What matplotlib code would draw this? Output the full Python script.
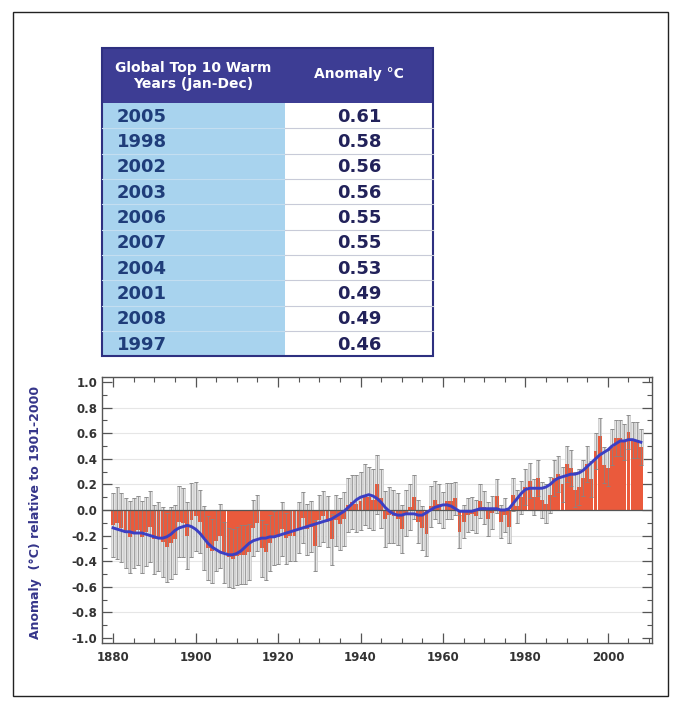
import matplotlib
matplotlib.use('Agg')
import matplotlib.pyplot as plt
from matplotlib.patches import Rectangle
from matplotlib.ticker import MultipleLocator


# top 10 table
table_years = ['2005', '1998', '2002', '2003', '2006', '2007', '2004', '2001', '2008', '1997']
table_anoms = ['0.61', '0.58', '0.56', '0.56', '0.55', '0.55', '0.53', '0.49', '0.49', '0.46']
header_left = 'Global Top 10 Warm\nYears (Jan-Dec)'
header_right = 'Anomaly °C'

# annual anomaly, 1880-2008
years = list(range(1880, 2009))
anomaly = [
    -0.12, -0.10, -0.14, -0.18, -0.21, -0.18, -0.16, -0.21, -0.17, -0.13,  # 1880s
    -0.23, -0.21, -0.25, -0.29, -0.26, -0.23, -0.09, -0.10, -0.20, -0.08,  # 1890s
    -0.05, -0.09, -0.22, -0.30, -0.32, -0.24, -0.20, -0.33, -0.37, -0.38,  # 1900s
    -0.36, -0.35, -0.35, -0.33, -0.14, -0.10, -0.30, -0.33, -0.26, -0.22,  # 1910s
    -0.21, -0.15, -0.22, -0.20, -0.20, -0.14, -0.06, -0.15, -0.13, -0.28,  # 1920s
    -0.08, -0.05, -0.09, -0.23, -0.08, -0.11, -0.07, 0.04, 0.06, 0.05,     # 1930s
    0.07, 0.12, 0.10, 0.08, 0.20, 0.09, -0.07, -0.04, -0.05, -0.07,        # 1940s
    -0.15, -0.02, 0.02, 0.10, -0.09, -0.14, -0.19, 0.03, 0.08, 0.05,       # 1950s
    0.00, 0.07, 0.07, 0.09, -0.17, -0.09, -0.04, -0.03, -0.05, 0.07,       # 1960s
    0.02, -0.07, -0.02, 0.11, -0.09, -0.04, -0.13, 0.12, 0.03, 0.10,       # 1970s
    0.18, 0.23, 0.10, 0.25, 0.08, 0.05, 0.12, 0.25, 0.28, 0.20,            # 1980s
    0.36, 0.33, 0.16, 0.18, 0.25, 0.36, 0.24, 0.46, 0.58, 0.35,            # 1990s
    0.33, 0.49, 0.56, 0.56, 0.53, 0.61, 0.55, 0.55, 0.49,                  # 2000s
]
# half width of the uncertainty range
uncert = [
    0.25, 0.28, 0.27, 0.27, 0.28, 0.27, 0.27, 0.28, 0.27, 0.28,
    0.27, 0.27, 0.27, 0.27, 0.28, 0.27, 0.28, 0.27, 0.26, 0.29,
    0.27, 0.25, 0.25, 0.25, 0.25, 0.24, 0.25, 0.24, 0.23, 0.23,
    0.23, 0.23, 0.23, 0.22, 0.22, 0.22, 0.22, 0.22, 0.22, 0.21,
    0.21, 0.21, 0.20, 0.20, 0.20, 0.20, 0.20, 0.20, 0.20, 0.20,
    0.20, 0.20, 0.20, 0.20, 0.20, 0.20, 0.21, 0.21, 0.21, 0.22,
    0.23, 0.24, 0.24, 0.24, 0.23, 0.23, 0.22, 0.22, 0.21, 0.20,
    0.19, 0.18, 0.18, 0.17, 0.17, 0.17, 0.17, 0.16, 0.15, 0.15,
    0.14, 0.14, 0.14, 0.13, 0.13, 0.13, 0.13, 0.13, 0.13, 0.13,
    0.13, 0.13, 0.13, 0.13, 0.13, 0.13, 0.13, 0.13, 0.13, 0.13,
    0.14, 0.14, 0.14, 0.14, 0.14, 0.15, 0.14, 0.14, 0.14, 0.14,
    0.14, 0.14, 0.14, 0.14, 0.14, 0.14, 0.14, 0.14, 0.14, 0.14,
    0.14, 0.14, 0.14, 0.14, 0.14, 0.13, 0.14, 0.14, 0.14,
]
# low-pass filtered curve as drawn in the chart
smooth = [
    -0.14, -0.15, -0.16, -0.17, -0.17, -0.18, -0.18, -0.18, -0.19, -0.20,
    -0.21, -0.22, -0.22, -0.21, -0.19, -0.16, -0.14, -0.13, -0.12, -0.13,
    -0.15, -0.18, -0.22, -0.26, -0.29, -0.31, -0.33, -0.34, -0.35, -0.35,
    -0.34, -0.32, -0.29, -0.26, -0.24, -0.23, -0.22, -0.22, -0.21, -0.21,
    -0.20, -0.19, -0.18, -0.17, -0.16, -0.15, -0.14, -0.13, -0.12, -0.11,
    -0.10, -0.09, -0.08, -0.07, -0.05, -0.03, -0.01, 0.02, 0.05, 0.08,
    0.10, 0.11, 0.12, 0.11, 0.09, 0.06, 0.02, -0.01, -0.03, -0.04,
    -0.04, -0.03, -0.03, -0.03, -0.04, -0.04, -0.02, 0.00, 0.02, 0.03,
    0.04, 0.04, 0.03, 0.01, -0.01, -0.01, -0.01, -0.01, 0.00, 0.01,
    0.01, 0.01, 0.01, 0.01, 0.00, 0.00, 0.01, 0.05, 0.09, 0.13,
    0.16, 0.17, 0.17, 0.17, 0.17, 0.18, 0.20, 0.23, 0.25, 0.26,
    0.27, 0.28, 0.28, 0.29, 0.31, 0.34, 0.37, 0.40, 0.43, 0.45,
    0.47, 0.50, 0.52, 0.54, 0.54, 0.55, 0.55, 0.54, 0.53,
]

W, H = 681, 708
HEADER_BLUE = '#3d3d94'
CELL_BLUE = '#a8d3ee'
YEAR_TEXT = '#1f3d7a'
ANOM_TEXT = '#22225a'
LABEL_BLUE = '#35358a'


def px(x, y):
    # pixel coords (top left origin) to figure fraction
    return x / W, 1 - y / H


def draw_table(fig):
    left, mid, right = 102, 285, 433
    top, head_bottom = 48, 103
    row_h = 25.35

    def rect(x0, y0, x1, y1, **kw):
        fx, fy = px(x0, y1)
        fig.patches.append(Rectangle((fx, fy), (x1 - x0) / W, (y1 - y0) / H,
                                     transform=fig.transFigure, **kw))

    bottom = head_bottom + row_h * len(table_years)
    rect(left, top, right, head_bottom, facecolor=HEADER_BLUE, edgecolor='none')
    rect(left, head_bottom, mid, bottom, facecolor=CELL_BLUE, edgecolor='none')
    rect(mid, head_bottom, right, bottom, facecolor='white', edgecolor='none')

    for i in range(1, len(table_years)):
        y = head_bottom + i * row_h
        fig.add_artist(plt.Line2D([px(left, 0)[0], px(mid, 0)[0]], [px(0, y)[1]] * 2,
                                  color='#c4def0', lw=0.8, transform=fig.transFigure))
        fig.add_artist(plt.Line2D([px(mid, 0)[0], px(right, 0)[0]], [px(0, y)[1]] * 2,
                                  color='#c8cbd8', lw=0.8, transform=fig.transFigure))
    rect(left, top, right, bottom, facecolor='none', edgecolor='#2e3080', lw=1.5)

    fig.text(*px((left + mid) / 2, 76), header_left, color='white', fontsize=10,
             fontweight='bold', ha='center', va='center', linespacing=1.1)
    fig.text(*px((mid + right) / 2, 74), header_right, color='white', fontsize=10,
             fontweight='bold', ha='center', va='center')
    for i, (yr, val) in enumerate(zip(table_years, table_anoms)):
        yc = head_bottom + (i + 0.5) * row_h + 1
        fig.text(*px(117, yc), yr, color=YEAR_TEXT, fontsize=13, fontweight='bold',
                 ha='left', va='center')
        fig.text(*px((mid + right) / 2, yc), val, color=ANOM_TEXT, fontsize=13,
                 fontweight='bold', ha='center', va='center')


def draw_plot(fig):
    l, r, t, b = 102, 652, 377, 643
    ax = fig.add_axes([l / W, 1 - b / H, (r - l) / W, (b - t) / H])

    low = [a - u for a, u in zip(anomaly, uncert)]
    span = [2 * u for u in uncert]
    ax.bar(years, span, bottom=low, width=0.8, color='#e4e4e4',
           edgecolor='#bcbcbc', linewidth=0.4, zorder=2)
    ax.bar(years, anomaly, width=0.95, color='#ea5a3c', edgecolor='none', zorder=3)
    ax.errorbar(years, anomaly, yerr=uncert, fmt='none', ecolor='#858585',
                elinewidth=0.5, capsize=1.6, capthick=0.6, zorder=4)
    ax.plot(years, smooth, color='#3b3fc4', lw=2.1, zorder=5)
    ax.axhline(0, color='#555555', lw=0.9, zorder=4)

    ax.set_xlim(1877.3, 2010.7)
    ax.set_ylim(-1.04, 1.04)
    ax.xaxis.set_major_locator(MultipleLocator(20))
    ax.xaxis.set_minor_locator(MultipleLocator(5))
    ax.yaxis.set_major_locator(MultipleLocator(0.2))
    ax.yaxis.set_minor_locator(MultipleLocator(0.1))
    ax.yaxis.set_major_formatter(plt.FuncFormatter(lambda v, p: f'{v:.1f}'.replace('-0.0', '0.0')))
    ax.tick_params(which='both', direction='in', top=True, right=True,
                   color='#555555', labelcolor='#333333', labelsize=8.5)
    ax.tick_params(which='major', length=7, width=0.9)
    ax.tick_params(which='minor', length=3.5, width=0.8)
    ax.tick_params(axis='x', pad=6)
    for label in ax.get_xticklabels() + ax.get_yticklabels():
        label.set_fontweight('bold')
    for spine in ax.spines.values():
        spine.set_color('#555555')
        spine.set_linewidth(1.0)
    for v in [-0.8, -0.6, -0.4, -0.2, 0.2, 0.4, 0.6, 0.8]:
        ax.axhline(v, color='#e6e6e6', lw=0.8, zorder=1)

    fig.text(*px(36, 512), 'Anomaly  (°C) relative to 1901-2000', rotation=90,
             color=LABEL_BLUE, fontsize=9, fontweight='bold', ha='center', va='center')


def main():
    fig = plt.figure(figsize=(W / 100, H / 100), dpi=100)
    fig.patch.set_facecolor('white')
    # outer frame
    fx, fy = px(13, 696)
    fig.patches.append(Rectangle((fx, fy), (668 - 13) / W, (696 - 12) / H,
                                 transform=fig.transFigure, facecolor='none',
                                 edgecolor='#222222', lw=1.0))
    draw_table(fig)
    draw_plot(fig)
    fig.savefig('out.png', dpi=100)
    plt.close(fig)


if __name__ == '__main__':
    main()
